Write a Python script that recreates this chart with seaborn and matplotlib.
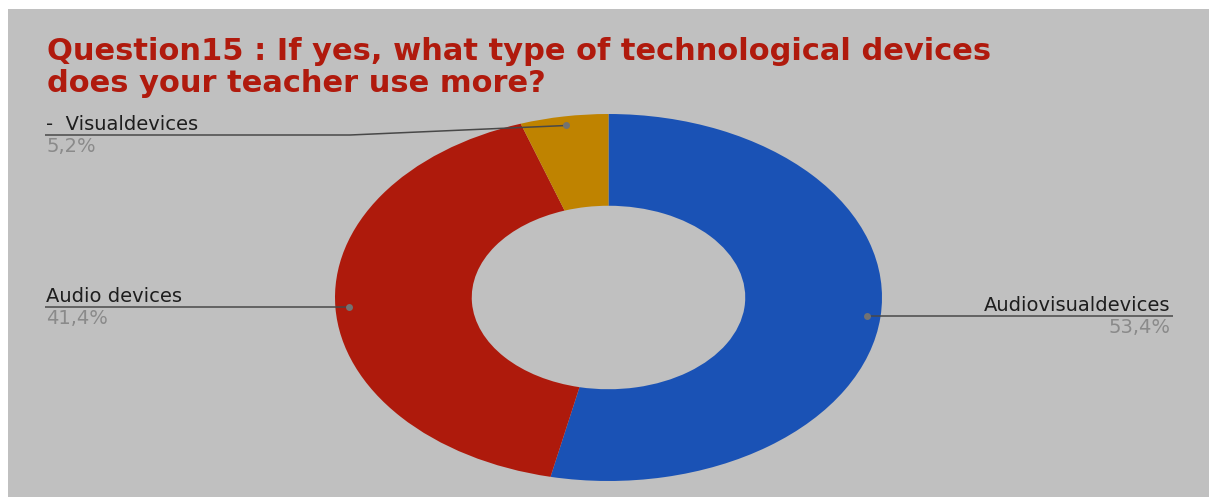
import matplotlib
matplotlib.use("Agg")
import numpy as np
import matplotlib.pyplot as plt
from matplotlib.patches import Rectangle
import seaborn as sns

# Survey answers, clockwise from 12 o'clock
categories = ["Audiovisualdevices", "Audio devices", "-  Visualdevices"]
shares = [53.4, 41.4, 5.2]
pct_labels = ["53,4%", "41,4%", "5,2%"]
title_lines = ["Question15 : If yes, what type of technological devices",
               "does your teacher use more?"]

sns.set_theme(style="white")
plt.rcParams["font.family"] = ["DejaVu Sans"]
palette = sns.color_palette(["#1a52b5", "#ae1a0c", "#bf8300"])

W, H = 1213, 497
fig = plt.figure(figsize=(W / 100, H / 100), dpi=100, facecolor="white")


def px_axes(left, top, width, height, **kw):
    return fig.add_axes([left / W, 1 - (top + height) / H, width / W, height / H], **kw)


# grey panel
bg = fig.add_axes([0, 0, 1, 1], zorder=0)
bg.set_xlim(0, W)
bg.set_ylim(H, 0)
bg.axis("off")
bg.add_patch(Rectangle((8, 9), W - 12, H - 9, color="#c0c0c0", lw=0))

# donut (stretched horizontally)
pie_ax = px_axes(335, 114, 547, 367, zorder=1)
wedges, _ = pie_ax.pie(shares, colors=palette, startangle=90, counterclock=False,
                       radius=1, wedgeprops=dict(width=0.5, linewidth=0))
pie_ax.set_aspect("auto")
pie_ax.set_xlim(-1, 1)
pie_ax.set_ylim(-1, 1)
pie_ax.axis("off")
pie_ax.patch.set_alpha(0)

# overlay in pixel coordinates for title, labels and leader lines
ov = fig.add_axes([0, 0, 1, 1], zorder=2)
ov.set_xlim(0, W)
ov.set_ylim(H, 0)
ov.axis("off")
ov.patch.set_alpha(0)

to_px = ov.transData.inverted()


def anchor(w, r=0.95):
    th = np.deg2rad((w.theta1 + w.theta2) / 2)
    disp = pie_ax.transData.transform((r * np.cos(th), r * np.sin(th)))
    return to_px.transform(disp)


title_color = "#b01a0d"
for i, line in enumerate(title_lines):
    ov.text(47, 60 + 32 * i, line, fontsize=22, fontweight="bold",
            color=title_color, va="baseline", ha="left")

line_color = "#484848"
dot_color = "#727272"
label_kw = dict(fontsize=14, color="#1e1e1e", va="baseline")
pct_kw = dict(fontsize=14, color="#8a8a8a", va="baseline")

# layout of each label: side, text x, optional fixed line y and elbow x
layout = [
    dict(side="right", tx=1170, end=1173, ly=None, elbow=None),
    dict(side="left", tx=46, end=45, ly=None, elbow=None),
    dict(side="left", tx=46, end=45, ly=135, elbow=350),
]

for w, name, pct, lay in zip(wedges, categories, pct_labels, layout):
    ax_, ay_ = anchor(w)
    ly = ay_ if lay["ly"] is None else lay["ly"]
    if lay["elbow"] is None:
        xs, ys = [ax_, lay["end"]], [ay_, ly]
    else:
        xs, ys = [ax_, lay["elbow"], lay["end"]], [ay_, ly, ly]
    ov.plot(xs, ys, color=line_color, lw=1.1, solid_capstyle="butt")
    ov.plot([ax_], [ay_], "o", ms=5, color=dot_color, mec="none")
    ha = "right" if lay["side"] == "right" else "left"
    ov.text(lay["tx"], ly - 5, name, ha=ha, **label_kw)
    ov.text(lay["tx"], ly + 17, pct, ha=ha, **pct_kw)

fig.savefig("out.png", dpi=100, facecolor="white")
